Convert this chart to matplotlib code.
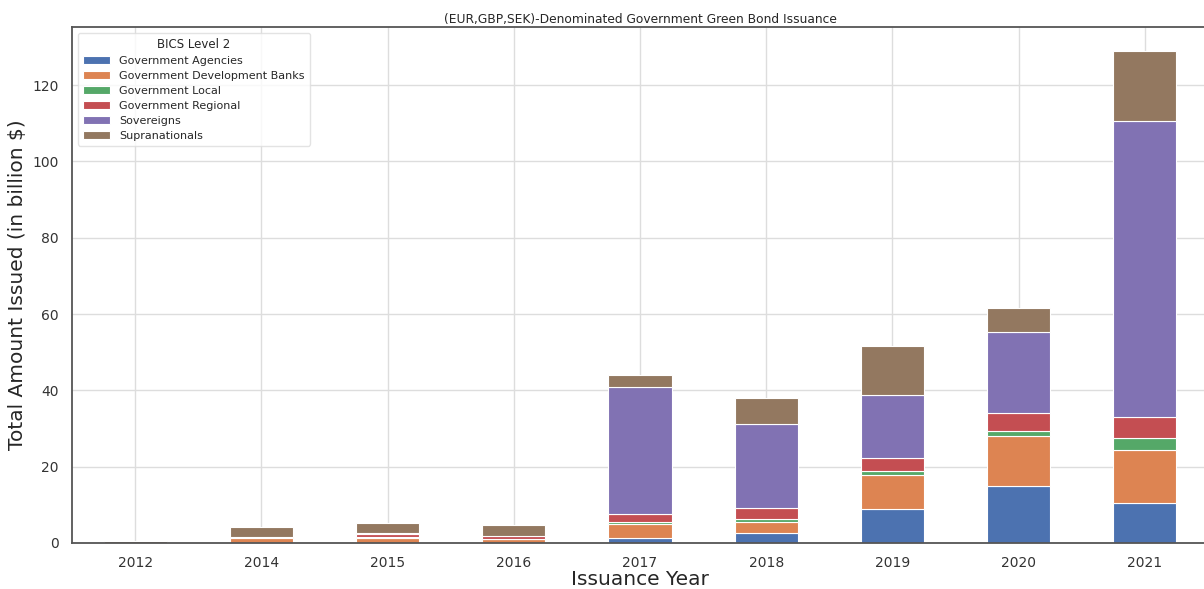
import matplotlib
matplotlib.use("Agg")
import matplotlib.pyplot as plt
import numpy as np
import pandas as pd
import seaborn as sns

years = ["2012", "2014", "2015", "2016", "2017", "2018", "2019", "2020", "2021"]
gov_agencies = [0.0, 0.0, 0.1, 0.0, 1.4, 2.7, 8.9, 14.85, 10.6]
gov_dev_banks = [0.0, 1.4, 1.1, 1.0, 3.6, 2.7, 8.9, 13.25, 13.7]
gov_local = [0.0, 0.0, 0.5, 0.1, 0.6, 0.8, 1.0, 1.3, 3.1]
gov_regional = [0.0, 0.1, 0.7, 0.8, 2.0, 3.0, 3.5, 4.6, 5.5]
sovereigns = [0.0, 0.0, 0.2, 0.0, 33.3, 22.0, 16.4, 21.3, 77.8]
supranationals = [0.5, 2.8, 2.6, 2.8, 3.0, 6.9, 12.9, 6.3, 18.1]

series_names = ["Government Agencies", "Government Development Banks",
                "Government Local", "Government Regional", "Sovereigns",
                "Supranationals"]

sns.set_theme(style="whitegrid")
colors = sns.color_palette("deep", 6)

df = pd.DataFrame({
    series_names[0]: gov_agencies,
    series_names[1]: gov_dev_banks,
    series_names[2]: gov_local,
    series_names[3]: gov_regional,
    series_names[4]: sovereigns,
    series_names[5]: supranationals,
}, index=years)

fig = plt.figure(figsize=(12.04, 5.89), dpi=100)
ax = fig.add_axes([72/1204, 46/589, 1136/1204, 516/589])
df.plot(kind="bar", stacked=True, ax=ax, color=colors, width=0.5,
        edgecolor="white", linewidth=0.8, rot=0)

ax.set_ylim(0, 135.2)
ax.set_yticks([0, 20, 40, 60, 80, 100, 120])
ax.tick_params(axis="both", labelsize=10, colors="#333333")
ax.set_xlabel("Issuance Year", fontsize=14.5, color="#262626", labelpad=0)
ax.set_ylabel("Total Amount Issued (in billion $)", fontsize=14.5, color="#262626")
ax.set_title("(EUR,GBP,SEK)-Denominated Government Green Bond Issuance",
             fontsize=8.8, color="#262626", pad=3)
for s in ["left", "bottom", "top", "right"]:
    ax.spines[s].set_color("#555555")
    ax.spines[s].set_linewidth(1.3)
ax.grid(True, color="#dddddd", linewidth=1)
ax.set_axisbelow(True)

leg = ax.legend(title="BICS Level 2", loc="upper left", fontsize=8,
                title_fontsize=8.5, frameon=True, borderpad=0.45,
                labelspacing=0.45, handlelength=2.5)
leg.get_frame().set_edgecolor("#dddddd")

fig.savefig("out.png", dpi=100)
